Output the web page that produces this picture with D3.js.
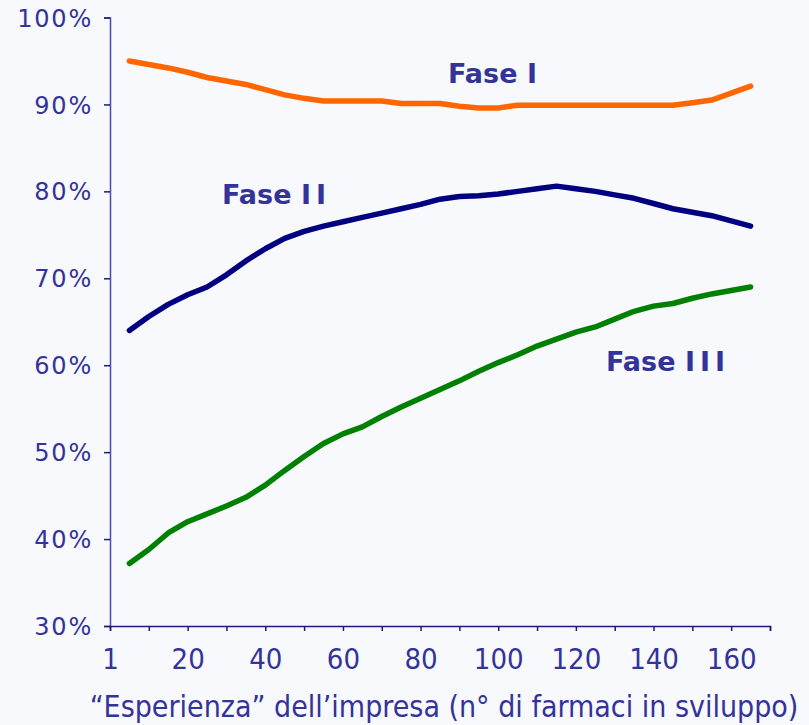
<!DOCTYPE html>
<html>
<head>
<meta charset="utf-8">
<script src="https://cdn.jsdelivr.net/npm/d3@7"></script>
<style>
  html, body { margin: 0; padding: 0; background: #f8f9fc; }
  svg { display: block; }
</style>
</head>
<body>
<div id="vis"></div>
<script>
// experience (number of drugs in development) - one point every 5
var experience = [5, 10, 15, 20, 25, 30, 35, 40, 45, 50, 55, 60, 65, 70, 75, 80, 85,
                  90, 95, 100, 105, 110, 115, 120, 125, 130, 135, 140, 145, 150, 155, 160, 165];

var fase1 = [95.0, 94.6, 94.2, 93.7, 93.1, 92.7, 92.3, 91.7, 91.1, 90.7, 90.4, 90.4, 90.4, 90.4, 90.1, 90.1, 90.1,
             89.8, 89.6, 89.6, 89.9, 89.9, 89.9, 89.9, 89.9, 89.9, 89.9, 89.9, 89.9, 90.2, 90.5, 91.3, 92.1];
var fase2 = [64.0, 65.6, 67.0, 68.1, 69.0, 70.4, 72.0, 73.4, 74.6, 75.4, 76.0, 76.5, 77.0, 77.5, 78.0, 78.5, 79.1,
             79.4, 79.5, 79.7, 80.0, 80.3, 80.6, 80.3, 80.0, 79.6, 79.2, 78.6, 78.0, 77.6, 77.2, 76.6, 76.0];
var fase3 = [37.2, 38.8, 40.7, 42.0, 42.9, 43.8, 44.8, 46.2, 47.9, 49.5, 51.0, 52.1, 52.9, 54.1, 55.2, 56.2, 57.2,
             58.2, 59.3, 60.3, 61.2, 62.2, 63.0, 63.8, 64.4, 65.3, 66.2, 66.8, 67.1, 67.7, 68.2, 68.6, 69.0];

var xTicks = [0, 10, 20, 30, 40, 50, 60, 70, 80, 90, 100, 110, 120, 130, 140, 150, 160, 170];
var xTickLabels = ["1", "", "20", "", "40", "", "60", "", "80", "", "100", "", "120", "", "140", "", "160", ""];
var yTicks = [30, 40, 50, 60, 70, 80, 90, 100];

var series = [
    { name: "Fase I", values: fase1, color: "#ff6600", lx: 448, ly: 83 },
    { name: "Fase II", values: fase2, color: "#000080", lx: 222, ly: 204 },
    { name: "Fase III", values: fase3, color: "#008000", lx: 606, ly: 371 }
];

var width = 809, height = 725;
var textColor = "#333399";

var svg = d3.select("#vis")
    .append("svg")
    .attr("width", width)
    .attr("height", height);

svg.append("rect")
    .attr("width", width)
    .attr("height", height)
    .attr("fill", "#f8f9fc");

var x = d3.scaleLinear()
    .domain([0, 170])
    .range([110, 770]);

var y = d3.scaleLinear()
    .domain([30, 100])
    .range([626, 17.5]);

// Y axis
var yAxis = svg.append("g")
    .attr("transform", "translate(110,0)")
    .call(d3.axisLeft(y)
        .tickValues(yTicks)
        .tickSize(6)
        .tickPadding(11)
        .tickFormat(function (d) { return d + "%"; }));

yAxis.select("path.domain")
    .attr("stroke", "#4a4aaa")
    .attr("stroke-width", 1.5);
yAxis.selectAll(".tick line")
    .attr("stroke", "#1a1a80")
    .attr("stroke-width", 1.5);
yAxis.selectAll("text")
    .attr("fill", textColor)
    .style("font-family", "'DejaVu Sans', sans-serif")
    .style("font-size", "24px")
    .style("letter-spacing", "1.8px")
    .attr("dy", "0.36em");

// X axis
var xAxis = svg.append("g")
    .attr("transform", "translate(0,626)")
    .call(d3.axisBottom(x)
        .tickValues(xTicks)
        .tickSize(5)
        .tickPadding(17)
        .tickFormat(function (d, i) { return xTickLabels[i]; }));

xAxis.select("path.domain")
    .attr("stroke", "#1a1a80")
    .attr("stroke-width", 1.5);
xAxis.selectAll(".tick line")
    .attr("stroke", "#1a1a80")
    .attr("stroke-width", 1.5);
xAxis.selectAll("text")
    .attr("fill", textColor)
    .style("font-family", "'DejaVu Sans Condensed', 'DejaVu Sans', sans-serif")
    .style("font-stretch", "condensed")
    .style("font-size", "29px");

// axis title
svg.append("text")
    .attr("x", 444)
    .attr("y", 717)
    .attr("text-anchor", "middle")
    .attr("fill", textColor)
    .style("font-family", "'DejaVu Sans Condensed', 'DejaVu Sans', sans-serif")
    .style("font-stretch", "condensed")
    .style("font-size", "30px")
    .text("\u201CEsperienza\u201D dell\u2019impresa (n\u00B0 di farmaci in sviluppo)");

// Lines
var line = d3.line()
    .x(function (d, i) { return x(experience[i]); })
    .y(function (d) { return y(d); });

svg.selectAll(".serie")
    .data(series)
    .enter()
    .append("path")
    .attr("class", "serie")
    .attr("d", function (d) { return line(d.values); })
    .attr("fill", "none")
    .attr("stroke", function (d) { return d.color; })
    .attr("stroke-width", 5.5)
    .attr("stroke-linecap", "round")
    .attr("stroke-linejoin", "round");

// series labels
var labels = svg.selectAll(".label")
    .data(series)
    .enter()
    .append("text")
    .attr("class", "label")
    .attr("x", function (d) { return d.lx; })
    .attr("y", function (d) { return d.ly; })
    .attr("fill", textColor)
    .style("font-family", "'DejaVu Sans', sans-serif")
    .style("font-weight", "bold")
    .style("font-size", "27px");

labels.append("tspan")
    .text("Fase ");
labels.append("tspan")
    .style("letter-spacing", "5px")
    .text(function (d) { return d.name.replace("Fase ", ""); });
</script>
</body>
</html>
